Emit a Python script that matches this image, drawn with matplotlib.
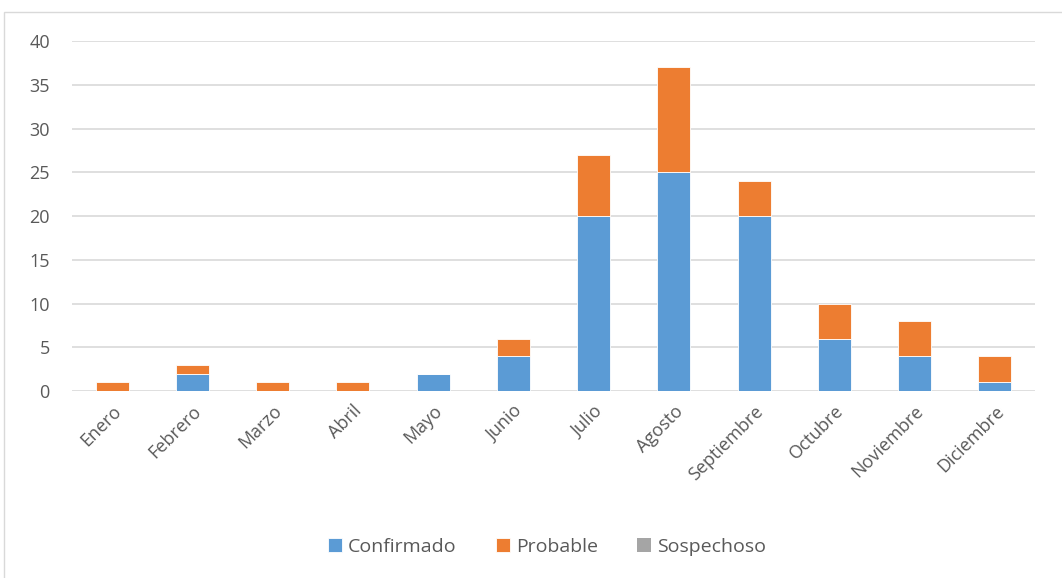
import matplotlib.pyplot as plt
from matplotlib.patches import Rectangle
import numpy as np

plt.rcParams['font.family'] = ['Open Sans', 'DejaVu Sans']

meses = ["Enero", "Febrero", "Marzo", "Abril", "Mayo", "Junio",
         "Julio", "Agosto", "Septiembre", "Octubre", "Noviembre", "Diciembre"]
confirmado = [0, 2, 0, 0, 2, 4, 20, 25, 20, 6, 4, 1]
probable = [1, 1, 1, 1, 0, 2, 7, 12, 4, 4, 4, 3]
sospechoso = [0, 0, 0, 0, 0, 0, 0, 0, 0, 0, 0, 0]

fig = plt.figure(figsize=(10.62, 5.78), dpi=100)
ax = fig.add_axes([0.0678, 0.3235, 0.9068, 0.6055])

# chart border
fig.patches.append(Rectangle((4 / 1062, -0.01), 1.0, (578 - 12) / 578 + 0.01,
                             transform=fig.transFigure, fill=False,
                             edgecolor='#d9d9d9', linewidth=1))

x = np.arange(len(meses))
w = 0.41
c = np.array(confirmado)
p = np.array(probable)
s = np.array(sospechoso)
ax.bar(x, c, w, color='#5b9bd5', label='Confirmado', zorder=3,
       edgecolor='white', linewidth=0.6)
ax.bar(x, p, w, bottom=c, color='#ed7d31', label='Probable', zorder=3,
       edgecolor='white', linewidth=0.6)
ax.bar(x, s, w, bottom=c + p, color='#a5a5a5', label='Sospechoso', zorder=3)

ax.set_xlim(-0.5, len(meses) - 0.5)
ax.set_ylim(0, 40)
ax.set_yticks(range(0, 41, 5))
ax.grid(axis='y', color='#d9d9d9', linewidth=1.2, zorder=0)
for sp in ax.spines.values():
    sp.set_visible(False)
ax.tick_params(axis='both', length=0, labelsize=13, colors='#595959', pad=8)
ax.tick_params(axis='y', pad=16)
ax.set_xticks(x)
ax.set_xticklabels(meses, rotation=45, ha='right', rotation_mode='anchor')

fig.legend(loc='center', bbox_to_anchor=(547 / 1062, 31 / 578), ncol=3,
           frameon=False, fontsize=14, handlelength=0.75, handleheight=0.75,
           handletextpad=0.3, columnspacing=2.0, labelcolor='#595959')

fig.savefig('out.png', dpi=100)
